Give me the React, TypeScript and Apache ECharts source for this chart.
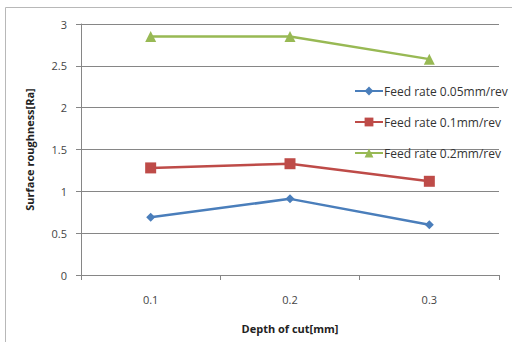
import React, { useEffect, useRef } from "react";
import * as echarts from "echarts";

const categories = ["0.1", "0.2", "0.3"];
const seriesNames = ["Feed rate 0.05mm/rev", "Feed rate 0.1mm/rev", "Feed rate 0.2mm/rev"];
const feed005 = [0.69, 0.91, 0.6];
const feed01 = [1.28, 1.33, 1.12];
const feed02 = [2.85, 2.85, 2.58];
const colors = ["#4A7EBB", "#BE4B48", "#98B954"];
const symbols = ["diamond", "rect", "triangle"];
const symbolSizes = [9, 11, 11];

export default function App() {
  const ref = useRef<HTMLDivElement>(null);
  useEffect(() => {
    if (!ref.current) return;
    const chart = echarts.init(ref.current, null, { renderer: "svg" });
    const font = "'Open Sans', 'Liberation Sans', sans-serif";
    const data = [feed005, feed01, feed02];
    chart.setOption({
      animation: false,
      backgroundColor: "#ffffff",
      textStyle: { fontFamily: font },
      graphic: [
        {
          type: "rect",
          shape: { x: 5.5, y: 7.5, width: 540, height: 400 },
          style: { fill: "none", stroke: "#b8b8b8", lineWidth: 1 },
          silent: true,
        },
      ],
      grid: { left: 81, right: 13, top: 24, bottom: 67 },
      legend: {
        orient: "vertical",
        left: 349,
        top: 80,
        itemGap: 19,
        itemWidth: 28,
        itemHeight: 11,
        data: seriesNames,
        textStyle: { fontSize: 12, color: "#333", fontFamily: font, padding: [0, 0, 0, -4] },
      },
      xAxis: {
        type: "category",
        data: categories,
        boundaryGap: true,
        name: "Depth of cut[mm]",
        nameLocation: "middle",
        nameGap: 48,
        nameTextStyle: { fontSize: 11, fontWeight: "bold", color: "#222", fontFamily: font },
        axisLine: { lineStyle: { color: "#868686", width: 1 } },
        axisTick: { show: true, length: 5, inside: false, lineStyle: { color: "#868686" } },
        axisLabel: { margin: 19, fontSize: 11, color: "#444" },
        splitLine: { show: false },
      },
      yAxis: {
        type: "value",
        min: 0,
        max: 3,
        interval: 0.5,
        name: "Surface roughness[Ra]",
        nameLocation: "middle",
        nameGap: 46,
        nameTextStyle: { fontSize: 11, fontWeight: "bold", color: "#222", fontFamily: font },
        axisLine: { show: true, lineStyle: { color: "#868686", width: 1 } },
        axisTick: { show: true, length: 5, lineStyle: { color: "#868686" } },
        axisLabel: { margin: 14, fontSize: 11, color: "#444" },
        splitLine: { show: true, lineStyle: { color: "#868686", width: 1 } },
      },
      series: seriesNames.map((name, i) => ({
        name,
        type: "line",
        data: data[i],
        symbol: symbols[i],
        symbolSize: symbolSizes[i],
        showSymbol: true,
        itemStyle: { color: colors[i] },
        lineStyle: { color: colors[i], width: 2.5 },
      })),
    });
    return () => chart.dispose();
  }, []);
  return (
    <div
      ref={ref}
      style={{ position: "fixed", left: 0, top: 0, width: 512, height: 342 }}
    />
  );
}
